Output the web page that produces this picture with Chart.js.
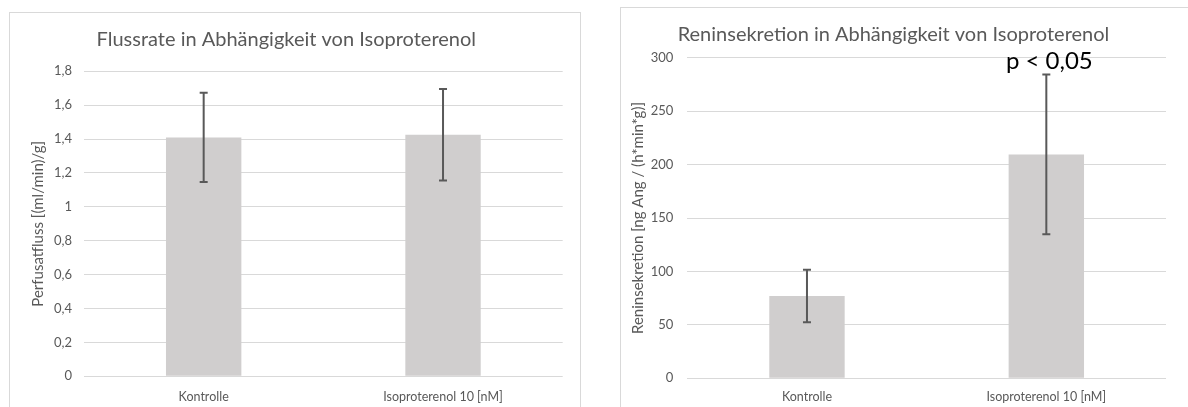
<!DOCTYPE html>
<html>
<head>
<meta charset="utf-8">
<script src="https://cdn.jsdelivr.net/npm/chart.js@4/dist/chart.umd.min.js"></script>
<style>
    html, body { margin: 0; padding: 0; background: #fff; width: 1188px; height: 407px; overflow: hidden; position: relative; }
    .box { position: absolute; border: 1px solid #d9d9d9; box-sizing: border-box; }
    .wrap { position: absolute; }
</style>
</head>
<body>
<div class="box" style="left:9px; top:12px; width:572px; height:420px;"></div>
<div class="wrap" style="left:10px; top:13px; width:570px; height:394px;"><canvas id="flowChart"></canvas></div>
<div class="box" style="left:620px; top:7px; width:580px; height:420px;"></div>
<div class="wrap" style="left:621px; top:8px; width:578px; height:399px;"><canvas id="reninChart"></canvas></div>
<script>
// Daten
const categories = ["Kontrolle", "Isoproterenol 10 [nM]"];

const flowValues = [1.41, 1.425];
const flowErrors = [0.263, 0.27];
const flowTicks = ["0", "0,2", "0,4", "0,6", "0,8", "1", "1,2", "1,4", "1,6", "1,8"];

const reninValues = [77, 209.5];
const reninErrors = [24.6, 74.7];
const reninTicks = ["0", "50", "100", "150", "200", "250", "300"];

const pLabel = "p < 0,05";
const pLabelValue = 297; // Höhe der Beschriftung auf der y-Achse

const FONT = "Lato, 'Open Sans', sans-serif";
const TEXT = "#595959";
const GRID = "#d9d9d9";
const BAR = "#d0cece";

// Fehlerbalken zeichnen
const errorBars = {
    id: "errorBars",
    afterDatasetsDraw(chart, args, opts) {
        const { ctx } = chart;
        const y = chart.scales.y;
        const meta = chart.getDatasetMeta(0);
        ctx.save();
        ctx.strokeStyle = "#595959";
        ctx.lineWidth = 2;
        meta.data.forEach((bar, i) => {
            const v = opts.values[i], e = opts.errors[i];
            const top = y.getPixelForValue(v + e);
            const bot = y.getPixelForValue(v - e);
            ctx.beginPath();
            ctx.moveTo(bar.x, top);
            ctx.lineTo(bar.x, bot);
            ctx.moveTo(bar.x - 4, top);
            ctx.lineTo(bar.x + 4, top);
            ctx.moveTo(bar.x - 4, bot);
            ctx.lineTo(bar.x + 4, bot);
            ctx.stroke();
        });
        ctx.restore();
    }
};

// Signifikanz-Beschriftung
const pText = {
    id: "pText",
    afterDatasetsDraw(chart, args, opts) {
        if (!opts.text) return;
        const { ctx } = chart;
        const bar = chart.getDatasetMeta(0).data[opts.index];
        ctx.save();
        ctx.fillStyle = "#000";
        ctx.font = "24px " + FONT;
        ctx.textAlign = "center";
        ctx.textBaseline = "middle";
        ctx.fillText(opts.text, bar.x + 3, chart.scales.y.getPixelForValue(opts.value));
        ctx.restore();
    }
};

function makeChart(id, cfg) {
    return new Chart(document.getElementById(id), {
        type: "bar",
        data: {
            labels: categories,
            datasets: [{
                data: cfg.values,
                backgroundColor: BAR,
                borderWidth: 0,
                barPercentage: 0.315,
                categoryPercentage: 1
            }]
        },
        options: {
            responsive: true,
            maintainAspectRatio: false,
            animation: false,
            layout: { padding: { left: 0, right: cfg.right, top: 0, bottom: 0 } },
            plugins: {
                legend: { display: false },
                tooltip: { enabled: false },
                title: {
                    display: true,
                    text: cfg.title,
                    color: TEXT,
                    font: { family: FONT, size: 20, weight: "normal" },
                    padding: cfg.titlePad
                },
                errorBars: { values: cfg.values, errors: cfg.errors },
                pText: cfg.pText || {}
            },
            scales: {
                x: {
                    grid: { display: false },
                    border: { display: false },
                    ticks: { color: TEXT, font: { family: FONT, size: 12.5 }, padding: cfg.xPad, maxRotation: 0 },
                    afterFit: s => { s.height = cfg.xHeight; }
                },
                y: {
                    min: 0,
                    max: cfg.max,
                    grid: { color: GRID, lineWidth: 1, drawTicks: false },
                    border: { display: false },
                    ticks: {
                        stepSize: cfg.step,
                        color: TEXT,
                        font: { family: FONT, size: 13 },
                        padding: cfg.yPad,
                        callback: (value, index) => cfg.ticks[index]
                    },
                    title: {
                        display: true,
                        text: cfg.yTitle,
                        color: TEXT,
                        font: { family: FONT, size: 15 },
                        padding: { top: cfg.yTitlePad, bottom: 0 }
                    },
                    afterFit: s => { s.width = cfg.yWidth; }
                }
            }
        },
        plugins: [errorBars, pText]
    });
}

makeChart("flowChart", {
    title: "Flussrate in Abhängigkeit von Isoproterenol",
    yTitle: "Perfusatfluss [(ml/min)/g]",
    values: flowValues,
    errors: flowErrors,
    ticks: flowTicks,
    max: 1.8,
    step: 0.2,
    right: 17.3,
    yWidth: 74,
    yPad: 12,
    yTitlePad: 19,
    xHeight: 30.7,
    xPad: 5.5,
    titlePad: { top: 15, bottom: 19.3 }
});

makeChart("reninChart", {
    title: "Reninsekretion in Abhängigkeit von Isoproterenol",
    yTitle: "Reninsekretion [ng Ang / (h*min*g)]",
    values: reninValues,
    errors: reninErrors,
    ticks: reninTicks,
    max: 300,
    step: 50,
    right: 33,
    yWidth: 66.3,
    yPad: 14,
    yTitlePad: 8.3,
    xHeight: 28.7,
    xPad: 3.2,
    titlePad: { top: 14.3, bottom: 11.4 },
    pText: { text: pLabel, value: pLabelValue, index: 1 }
});
</script>
</body>
</html>
